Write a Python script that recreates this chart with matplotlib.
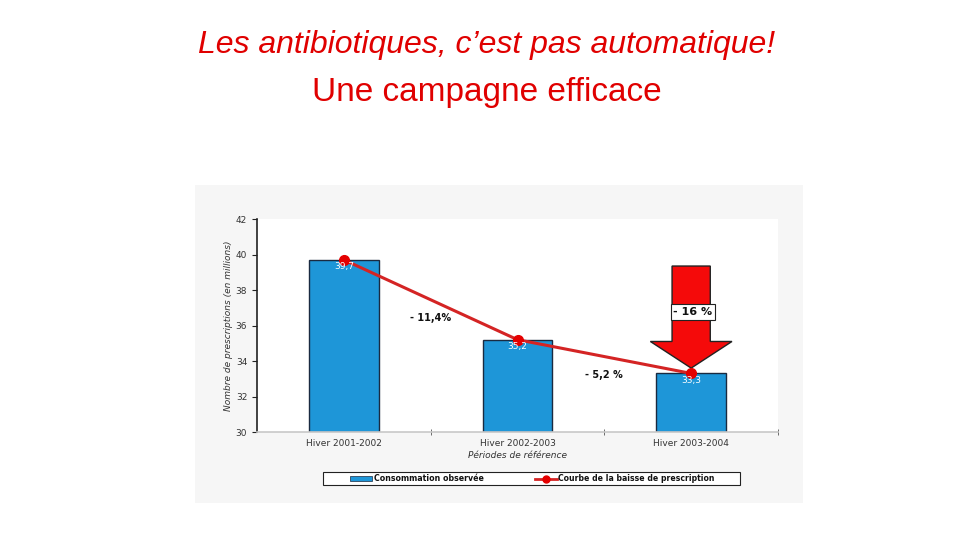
import matplotlib
matplotlib.use("Agg")
import matplotlib.pyplot as plt
from matplotlib.patches import Polygon, Rectangle
from matplotlib.lines import Line2D

# ---- data ----
categories = ["Hiver 2001-2002", "Hiver 2002-2003", "Hiver 2003-2004"]
values = [39.7, 35.2, 33.3]
value_labels = ["39,7", "35,2", "33,3"]
step_labels = ["- 11,4%", "- 5,2 %"]
total_label = "- 16 %"
y_ticks = [30, 32, 34, 36, 38, 40, 42]

title1 = "Les antibiotiques, c\u2019est pas automatique!"
title2 = "Une campagne efficace"
ylabel = "Nombre de prescriptions (en millions)"
xlabel = "Périodes de référence"
legend_bar = "Consommation observée"
legend_line = "Courbe de la baisse de prescription"

plt.rcParams['font.family'] = ['DejaVu Sans']

W, H = 960, 540
def fx(px):
    return px / W
def fy(py):
    return 1 - py / H

fig = plt.figure(figsize=(9.6, 5.4), dpi=100)
fig.patch.set_facecolor("white")

# light gray panel behind the chart
panel = Rectangle((fx(195), fy(503)), fx(803) - fx(195), fy(185) - fy(503),
                  transform=fig.transFigure, facecolor="#f6f6f6", edgecolor="none", zorder=0)
fig.patches.append(panel)

# titles
fig.text(0.507, fy(45), title1, ha="center", va="center", color="#e00000",
         fontsize=23, style="italic", family="Liberation Sans")
fig.text(0.507, fy(92), title2, ha="center", va="center", color="#e00000",
         fontsize=24, family="Liberation Sans")

ax = fig.add_axes([fx(257), fy(432), fx(778) - fx(257), fy(219) - fy(432)], zorder=2)
ax.set_facecolor("white")

x = list(range(len(categories)))
bar_color = "#1e96d8"
line_color = "#d42424"
ax.bar(x, [v - 30 for v in values], bottom=30, width=0.4, color=bar_color,
       edgecolor="#1a2a40", linewidth=1.0, zorder=2)
ax.plot(x, values, color=line_color, linewidth=2.2, marker="o", markersize=7,
        markerfacecolor="#e40000", markeredgecolor="#e40000", zorder=4)

for xi, v, lab in zip(x, values, value_labels):
    ax.text(xi, v - 0.4, lab, ha="center", va="center", color="white",
            fontsize=6.5, zorder=5)

for i, lab in enumerate(step_labels):
    ymid = (values[i] + values[i + 1]) / 2
    ax.text(i + 0.5, ymid - 1.05, lab, ha="center", va="center", color="#111111",
            fontsize=7, fontweight="bold", zorder=5)

# big red arrow over last bar
xc = x[-1]
tip = values[-1] + 0.3
head_base = tip + 1.5
top = 39.35
sw, hw = 0.11, 0.235
arrow = Polygon([(xc - sw, top), (xc + sw, top), (xc + sw, head_base),
                 (xc + hw, head_base), (xc, tip), (xc - hw, head_base),
                 (xc - sw, head_base)], closed=True, facecolor="#f50a0a",
                edgecolor="#222222", linewidth=1.0, zorder=3)
ax.add_patch(arrow)
ax.text(xc + 0.01, 36.75, total_label, ha="center", va="center", fontsize=8,
        fontweight="bold", color="#111111", zorder=6,
        bbox=dict(boxstyle="square,pad=0.25", facecolor="white", edgecolor="#222222",
                  linewidth=0.8))

ax.set_xlim(-0.5, 2.5)
ax.set_ylim(30, 42)
ax.set_yticks(y_ticks)
ax.set_yticklabels([str(t) for t in y_ticks])
ax.set_xticks(x)
ax.set_xticklabels(categories)
ax.set_xticks([0.5, 1.5, 2.5], minor=True)
ax.tick_params(axis="x", which="major", length=0, labelsize=6.5, labelcolor="#333333", pad=5)
ax.tick_params(axis="x", which="minor", length=4, direction="inout", color="#555555")
ax.tick_params(axis="y", which="major", length=3.5, labelsize=6.5, labelcolor="#333333",
               color="#222222")
for s in ["top", "right"]:
    ax.spines[s].set_visible(False)
ax.spines["left"].set_color("#222222")
ax.spines["left"].set_linewidth(1.2)
ax.spines["bottom"].set_color("#c8c8c8")
ax.spines["bottom"].set_linewidth(1.2)

ax.set_ylabel(ylabel, fontsize=6.5, style="italic", color="#333333", labelpad=2)
ax.set_xlabel(xlabel, fontsize=6.5, style="italic", color="#333333", labelpad=2)

# manual legend box
frame = Rectangle((fx(323), fy(485)), fx(740) - fx(323), fy(472) - fy(485),
                  transform=fig.transFigure, facecolor="white", edgecolor="#222222",
                  linewidth=0.8, zorder=3)
fig.patches.append(frame)
ly = fy(478.5)
bar_handle = Rectangle((fx(350), fy(481)), fx(372) - fx(350), fy(476) - fy(481),
                       transform=fig.transFigure, facecolor=bar_color,
                       edgecolor="#1a2a40", linewidth=0.5, zorder=4)
fig.patches.append(bar_handle)
fig.text(fx(374), ly, legend_bar, ha="left", va="center", fontsize=5.7,
         fontweight="bold", color="#111111", zorder=5)
fig.lines.append(Line2D([fx(535), fx(557)], [ly, ly], transform=fig.transFigure,
                        color=line_color, linewidth=2, zorder=4))
fig.lines.append(Line2D([fx(546)], [ly], transform=fig.transFigure, marker="o",
                        markersize=5, color="#e40000", zorder=5))
fig.text(fx(558), ly, legend_line, ha="left", va="center", fontsize=5.6,
         fontweight="bold", color="#111111", zorder=5)

fig.savefig("out.png", dpi=100, facecolor="white")
